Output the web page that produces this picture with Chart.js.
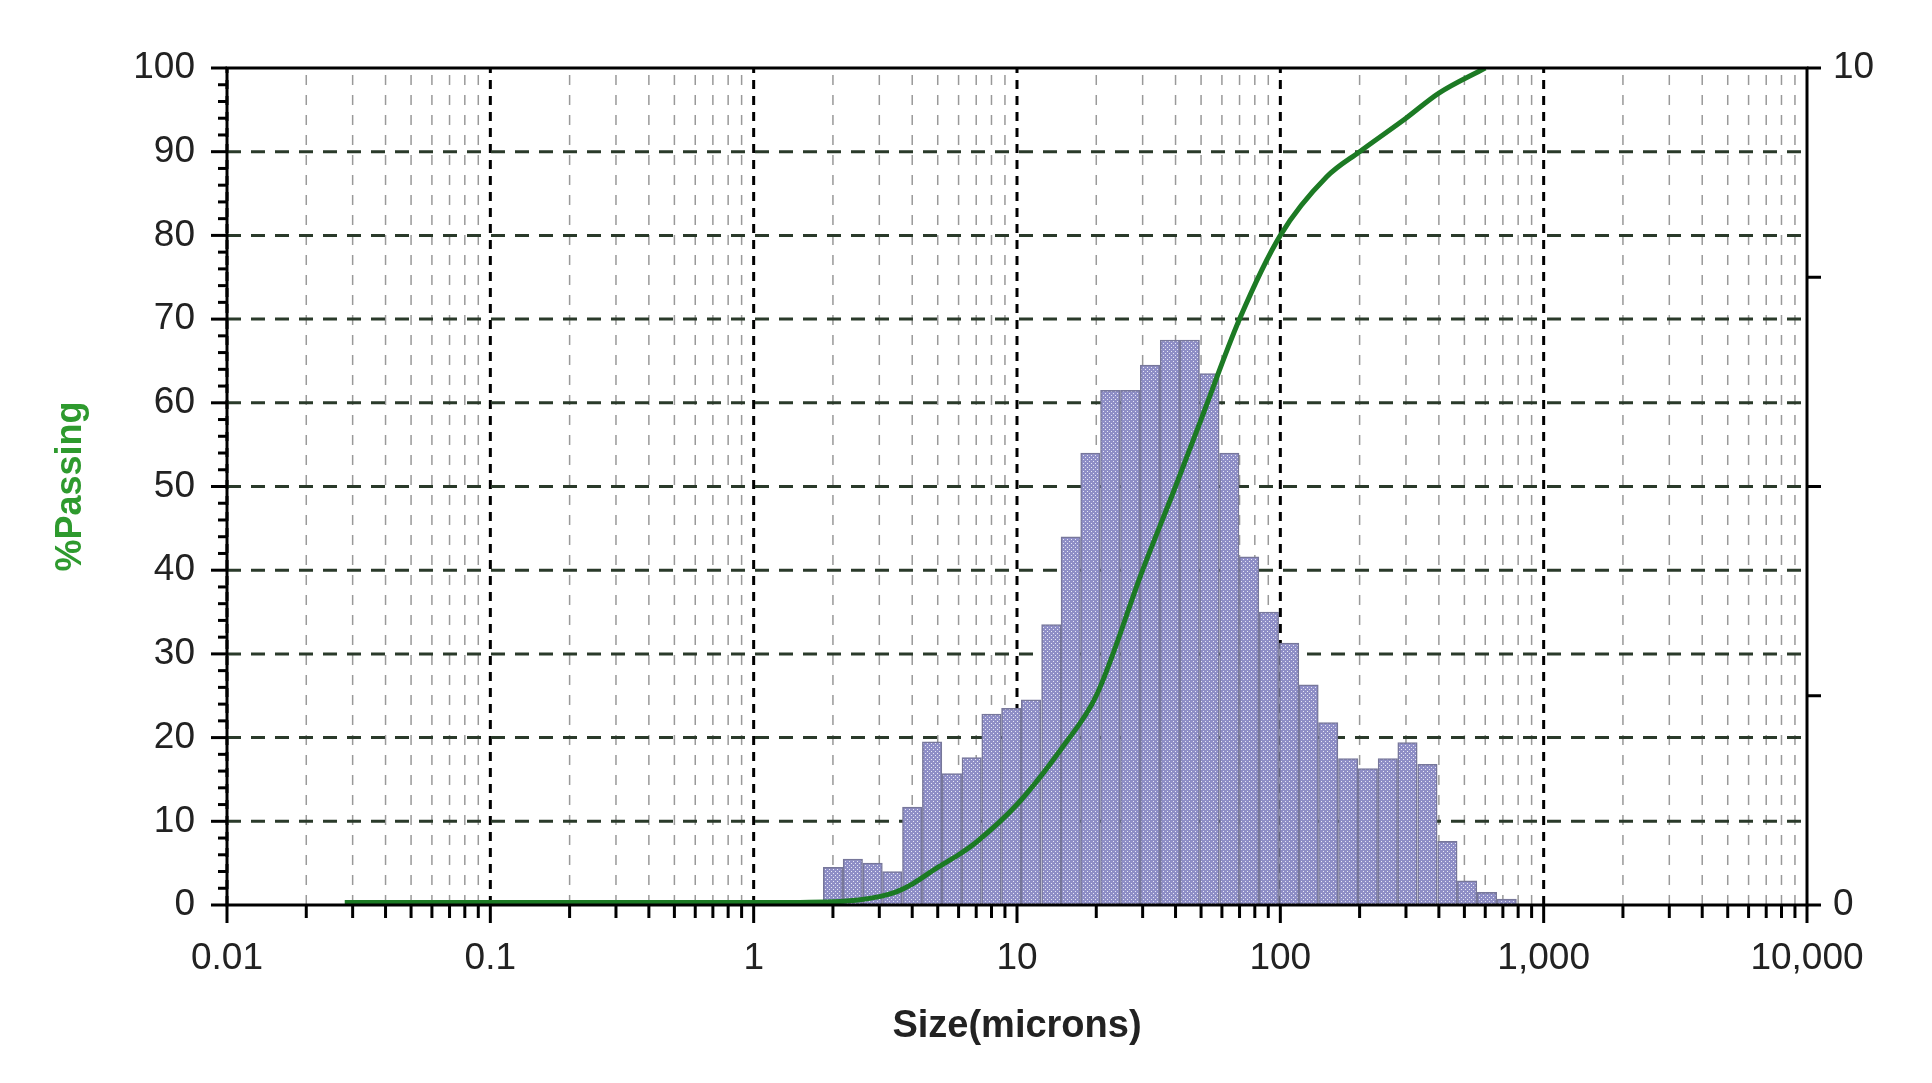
<!DOCTYPE html>
<html><head><meta charset="utf-8">
<script src="https://cdn.jsdelivr.net/npm/chart.js@4.4.0/dist/chart.umd.min.js"></script>
<style>html,body{margin:0;padding:0;background:#fff}#wrap{width:1932px;height:1083px}</style>
</head><body><div id="wrap"><canvas id="c"></canvas></div>
<script>
const binSizes=[2.0,2.38,2.83,3.36,4.0,4.76,5.66,6.73,8.0,9.51,11.3,13.5,16.0,19.0,22.6,26.9,32.0,38.1,45.3,53.8,64,76.1,90.5,108,128,152,181,215,256,304,362,431,512,609,724];
const binValues=[0.45,0.55,0.5,0.4,1.17,1.95,1.57,1.76,2.28,2.35,2.45,3.35,4.4,5.4,6.15,6.15,6.45,6.75,6.75,6.35,5.4,4.16,3.5,3.13,2.63,2.18,1.75,1.63,1.75,1.94,1.68,0.76,0.29,0.15,0.07];
const curveSizes=[0.028,0.1,0.5,1,2,2.5,3,3.5,4,5,6,7,10,15,20,30,40,50,70,100,150,200,300,400,600];
const curvePassing=[0.3,0.3,0.3,0.3,0.4,0.6,1,1.6,2.5,4.5,6,7.5,12,19,25,40,50,58,70,80,87,90,94,97,100];
const xTickLabels={0.01:'0.01',0.1:'0.1',1:'1',10:'10',100:'100',1000:'1,000',10000:'10,000'};

function makePattern(){
  const p=document.createElement('canvas');p.width=4;p.height=4;
  const g=p.getContext('2d');g.fillStyle='#8e8ec6';g.fillRect(0,0,4,4);
  g.fillStyle='#e8e8f6';g.fillRect(1,1,1,1);g.fillRect(3,3,1,1);
  return document.getElementById('c').getContext('2d').createPattern(p,'repeat');
}
const gridPlugin={id:'grid',
  beforeDatasetsDraw(chart){
    const {ctx,chartArea:a,scales:{x,y}}=chart;ctx.save();
    for(let d=-2;d<4;d++){for(let m=1;m<10;m++){
      const v=m*Math.pow(10,d);const px=x.getPixelForValue(v);
      ctx.beginPath();ctx.lineWidth=m===1?3:1.5;ctx.strokeStyle=m===1?'#000':'#999';
      ctx.setLineDash(m===1?[9,7]:[10,10]);
      ctx.moveTo(px,a.bottom);ctx.lineTo(px,a.top);ctx.stroke();}}
    for(let v=10;v<100;v+=10){const py=y.getPixelForValue(v);
      ctx.beginPath();ctx.lineWidth=3;ctx.strokeStyle='#2a3a2a';ctx.setLineDash([14,10]);
      ctx.moveTo(a.left,py);ctx.lineTo(a.right,py);ctx.stroke();}
    ctx.restore();
  },
  afterDatasetsDraw(chart){
    const {ctx,chartArea:a,scales:{x,y}}=chart;ctx.save();ctx.setLineDash([]);
    ctx.strokeStyle='#000';ctx.lineWidth=3;ctx.strokeRect(a.left,a.top,a.right-a.left,a.bottom-a.top);
    ctx.lineWidth=3;
    for(let d=-2;d<4;d++){for(let m=1;m<10;m++){const px=x.getPixelForValue(m*Math.pow(10,d));
      ctx.beginPath();ctx.moveTo(px,a.bottom);ctx.lineTo(px,a.bottom+(m===1?18:13));ctx.stroke();}}
    {const px=x.getPixelForValue(10000);ctx.beginPath();ctx.moveTo(px,a.bottom);ctx.lineTo(px,a.bottom+18);ctx.stroke();}
    for(let v=0;v<=100;v+=2){const py=y.getPixelForValue(v);ctx.beginPath();
      ctx.moveTo(a.left,py);ctx.lineTo(a.left-(v%10===0?16:9),py);ctx.stroke();}
    for(let v=0;v<=100;v+=25){const py=y.getPixelForValue(v);ctx.beginPath();
      ctx.moveTo(a.right,py);ctx.lineTo(a.right+14,py);ctx.stroke();}
    ctx.restore();
  }};
Chart.defaults.font.family='"Liberation Sans", Arial, sans-serif';
Chart.defaults.color='#222';
new Chart(document.getElementById('c'),{
  data:{datasets:[
    {type:'line',data:curveSizes.map((s,i)=>({x:s,y:curvePassing[i]})),borderColor:'#1c7a24',borderWidth:5,pointRadius:0,tension:0.4,cubicInterpolationMode:'monotone',yAxisID:'y',order:0},
    {type:'bar',data:binSizes.map((s,i)=>({x:s,y:binValues[i]})),backgroundColor:makePattern(),borderColor:'#77779a',borderWidth:1.5,barPercentage:1,categoryPercentage:1,grouped:false,yAxisID:'y2',order:1}
  ]},
  plugins:[gridPlugin],
  options:{responsive:true,maintainAspectRatio:false,animation:false,
    layout:{padding:{top:68,right:0,left:45,bottom:30}},
    plugins:{legend:{display:false},tooltip:{enabled:false}},
    scales:{
      x:{type:'logarithmic',min:0.01,max:10000,grid:{display:false},border:{display:false},
        afterBuildTicks(s){s.ticks=Object.keys(xTickLabels).map(v=>({value:+v}));},
        ticks:{padding:24,maxRotation:0,autoSkip:false,font:{size:37},color:'#222',callback:v=>xTickLabels[v]||''},
        afterFit(s){s.height=148;},
        title:{display:true,text:'Size(microns)',font:{size:38,weight:'bold'},color:'#222',padding:{top:8}}},
      y:{position:'left',min:0,max:100,grid:{display:false},border:{display:false},
        ticks:{stepSize:10,padding:24,font:{size:37},color:'#222'},
        afterFit(s){s.width=182;},
        title:{display:true,text:'%Passing',font:{size:36,weight:'bold'},color:'#2e9a2e',padding:{bottom:20}}},
      y2:{position:'right',min:0,max:10,grid:{display:false},border:{display:false},
        afterBuildTicks(s){s.ticks=[{value:0},{value:10}];},
        ticks:{padding:18,font:{size:37},color:'#222'},
        afterFit(s){s.width=125;}}
    }}
});
</script></body></html>
